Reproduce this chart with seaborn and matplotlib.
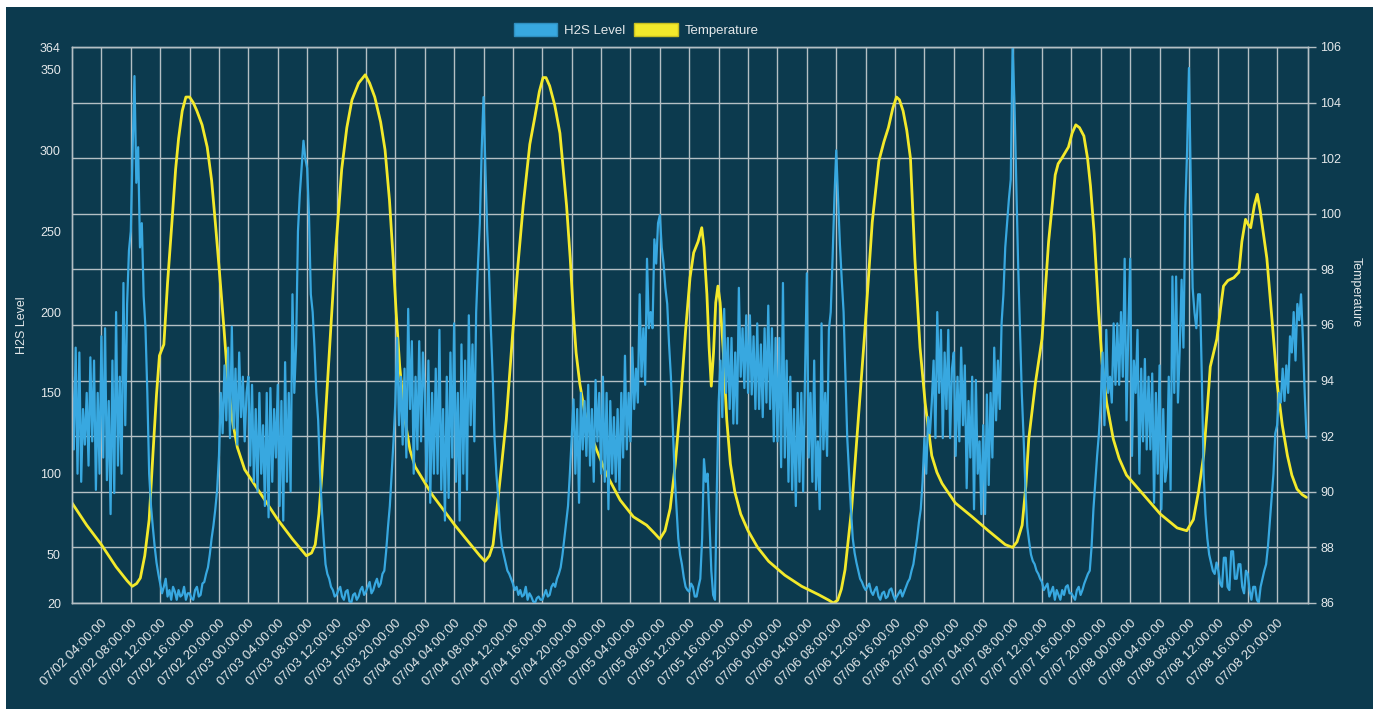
import numpy as np
import pandas as pd
import seaborn as sns
import matplotlib
matplotlib.use("Agg")
import matplotlib.pyplot as plt
from matplotlib.patches import Rectangle, Patch

# temperature (hours after 07/02 00:00, degrees), one line per day
temp_hours = [0, 2, 4, 6, 7.5, 8.2, 8.8, 9.3, 9.9, 10.5, 11.0, 11.5, 11.9, 12.5, 13.0, 13.6, 14.1, 14.5, 15.0, 15.5,
              16.0, 16.5, 17.0, 17.7, 18.4, 19.0, 19.5, 20.1, 20.7, 21.2, 21.8, 22.5, 23.5, 25.5,
              28.0, 30.0, 31.9, 32.6, 33.1, 33.6, 34.0, 34.9, 35.8, 36.7, 37.4, 38.1, 39.0, 39.9, 40.5, 41.2,
              42.0, 42.6, 43.2, 43.7, 44.1, 44.6, 45.3, 46.0, 46.7, 49.0, 52.1, 55.5,
              56.2, 56.8, 57.3, 58.2, 59.1, 60.0, 60.7, 61.4, 62.3, 63.0, 63.6, 64.1, 64.5, 65.0, 65.7, 66.4, 67.3,
              67.8, 68.2, 68.6, 69.1, 70.0, 71.4, 72.8, 74.6, 76.4, 78.2, 79.3, 80.0, 80.7, 81.4, 82.1, 82.8, 83.5, 84.1,
              84.6, 85.2, 85.7, 86.0, 86.4, 86.7, 87.0, 87.3, 87.6, 87.9, 88.2, 88.6, 89.1, 89.6, 90.2, 91.0, 92.0,
              93.3, 94.8, 97.0, 99.3, 101.6, 103.0, 103.6, 104.2, 104.7, 105.2, 106.1, 107.0, 107.9, 108.9, 109.8,
              110.5, 111.1, 111.7, 112.2, 112.6,
              113.1, 113.6, 114.1, 114.7, 115.4, 116.1, 117.0, 117.7, 118.4, 120.2, 122.5, 124.7, 127.0, 128.0, 128.6,
              129.3, 129.8, 130.2, 131.1, 132.0, 132.9, 133.8, 134.2, 134.7, 135.6, 136.1, 136.6, 137.1, 137.7, 138.2,
              138.6, 139.1, 139.7,
              140.2, 140.8, 141.7, 142.5, 143.5, 145.8, 148.1, 150.4, 151.7, 152.6, 153.3, 154.0, 154.5, 154.9, 155.8,
              156.3, 156.7, 157.3, 158.1, 158.8, 159.2, 159.7, 160.1, 160.4, 160.9, 161.3, 161.7, 162.6, 163.3, 164.0,
              164.7, 165.4, 166.0, 166.7, 167.4, 168.0]
temp_values = [89.6, 88.8, 88.1, 87.3, 86.8, 86.6, 86.7, 86.9, 87.7, 89.0, 91.3, 93.5, 94.9, 95.3, 97.5, 99.7, 101.6, 102.7, 103.7, 104.2,
               104.2, 104.0, 103.7, 103.2, 102.4, 101.2, 99.7, 97.8, 95.8, 94.0, 92.6, 91.6, 90.8, 90.0,
               89.0, 88.3, 87.7, 87.8, 88.1, 89.2, 90.6, 94.5, 98.4, 101.6, 103.1, 104.1, 104.7, 105.0, 104.7, 104.2,
               103.3, 102.3, 100.5, 98.4, 96.5, 94.5, 92.6, 91.5, 90.9, 89.9, 88.8, 87.7,
               87.5, 87.7, 88.1, 90.3, 92.6, 95.8, 98.2, 100.3, 102.5, 103.5, 104.4, 104.9, 104.9, 104.6, 103.9, 102.9, 100.3,
               98.4, 96.5, 95.0, 93.9, 92.5, 91.5, 90.6, 89.7, 89.1, 88.8, 88.5, 88.3, 88.6, 89.4, 91.0, 93.2, 95.8, 97.7,
               98.6, 99.0, 99.5, 98.8, 97.1, 95.2, 93.8, 95.0, 96.8, 97.4, 96.8, 95.2, 92.6, 91.0, 90.0, 89.2, 88.6,
               88.0, 87.5, 87.0, 86.6, 86.3, 86.1, 86.0, 86.1, 86.5, 87.2, 89.4, 92.6, 95.8, 99.7, 101.9,
               102.6, 103.1, 103.8, 104.2, 104.1,
               103.7, 103.0, 102.0, 98.4, 95.2, 93.2, 91.3, 90.7, 90.3, 89.6, 89.1, 88.6, 88.1, 88.0, 88.2,
               88.8, 90.2, 91.9, 93.9, 95.5, 99.0, 101.4, 101.8, 102.0, 102.4, 102.9, 103.2, 103.1, 102.8, 102.0,
               101.0, 99.3, 96.5,
               94.6, 93.2, 91.9, 91.2, 90.6, 89.9, 89.2, 88.7, 88.6, 89.0, 90.0, 91.3, 93.0, 94.5, 95.5,
               96.6, 97.4, 97.6, 97.7, 97.9, 99.0, 99.8, 99.6, 99.5, 100.3, 100.7, 100.1, 98.4, 96.2, 93.9,
               92.4, 91.3, 90.6, 90.1, 89.9, 89.8]

# H2S level every 15 minutes from 07/02 00:00, one row = 4 hours
h2s_values = [
    160, 115, 178, 100, 175, 95, 140, 118, 150, 105, 172, 120, 170, 90, 150, 100,
    185, 110, 190, 96, 145, 75, 170, 88, 200, 105, 160, 100, 218, 130, 205, 238,
    250, 300, 346, 280, 302, 240, 255, 210, 190, 150, 100, 80, 67, 55, 45, 38,
    32, 26, 30, 35, 24, 28, 22, 30, 27, 22, 28, 24, 25, 30, 22, 26,
    26, 23, 22, 28, 30, 24, 25, 32, 33, 38, 42, 50, 60, 68, 78, 90,
    111, 150, 125, 167, 133, 178, 122, 191, 128, 165, 118, 175, 135, 160, 120, 150,
    160, 105, 155, 95, 140, 89, 150, 100, 130, 80, 150, 73, 153, 95, 140, 110,
    155, 80, 145, 71, 169, 95, 150, 89, 211, 150, 180, 250, 273, 290, 306, 295,
    289, 260, 211, 200, 178, 150, 133, 100, 78, 60, 44, 38, 35, 30, 28, 24,
    25, 28, 30, 24, 22, 27, 28, 21, 20, 25, 26, 22, 24, 28, 30, 25,
    27, 30, 33, 26, 28, 32, 35, 30, 32, 38, 40, 52, 67, 80, 100, 120,
    144, 184, 130, 160, 118, 165, 110, 202, 140, 182, 100, 160, 115, 182, 120, 175,
    150, 95, 170, 82, 150, 100, 165, 100, 189, 90, 140, 71, 160, 85, 175, 110,
    193, 95, 150, 71, 180, 100, 170, 90, 198, 130, 180, 120, 200, 230, 255, 300,
    333, 290, 251, 225, 190, 160, 122, 100, 85, 65, 55, 50, 45, 40, 38, 35,
    32, 28, 30, 25, 28, 24, 25, 30, 22, 26, 24, 21, 20, 23, 24, 22,
    22, 25, 28, 24, 25, 30, 32, 30, 35, 38, 42, 50, 60, 70, 80, 100,
    122, 146, 100, 140, 82, 150, 115, 145, 111, 155, 105, 140, 95, 158, 120, 150,
    100, 160, 95, 150, 78, 145, 100, 135, 95, 140, 90, 150, 110, 173, 115, 150,
    120, 178, 140, 165, 144, 211, 160, 190, 155, 233, 190, 200, 190, 245, 230, 255,
    260, 240, 230, 215, 205, 180, 160, 130, 100, 80, 60, 50, 44, 36, 30, 28,
    27, 32, 30, 24, 24, 30, 35, 60, 109, 95, 100, 70, 40, 25, 22, 90,
    144, 170, 135, 202, 150, 184, 140, 184, 131, 175, 131, 215, 160, 190, 153, 198,
    150, 198, 149, 185, 140, 193, 140, 180, 135, 190, 144, 204, 140, 190, 120, 184,
    120, 184, 104, 218, 110, 170, 95, 160, 90, 140, 80, 150, 95, 150, 89, 160,
    224, 110, 150, 95, 170, 90, 120, 78, 193, 115, 150, 111, 189, 200, 233, 270,
    300, 270, 242, 220, 200, 160, 122, 100, 78, 60, 51, 45, 40, 35, 33, 30,
    28, 30, 32, 27, 25, 28, 30, 24, 22, 26, 27, 23, 24, 28, 29, 25,
    22, 24, 26, 28, 24, 27, 30, 33, 35, 40, 44, 52, 60, 70, 78, 95,
    122, 100, 135, 125, 144, 170, 122, 200, 150, 189, 122, 175, 140, 189, 122, 165,
    175, 111, 160, 120, 178, 130, 167, 91, 145, 110, 160, 78, 158, 100, 120, 75,
    130, 75, 149, 93, 150, 110, 178, 133, 170, 140, 193, 211, 240, 255, 270, 282,
    364, 330, 280, 230, 189, 150, 122, 90, 67, 58, 50, 46, 44, 40, 38, 35,
    33, 28, 30, 32, 24, 27, 30, 22, 28, 25, 22, 28, 25, 30, 31, 26,
    26, 24, 22, 28, 30, 25, 28, 32, 35, 38, 40, 55, 78, 95, 111, 125,
    144, 175, 130, 189, 150, 160, 144, 193, 155, 193, 155, 200, 160, 233, 133, 190,
    233, 111, 170, 150, 189, 100, 165, 120, 171, 115, 160, 115, 162, 82, 150, 100,
    167, 78, 140, 95, 104, 160, 90, 222, 150, 222, 144, 178, 220, 178, 264, 300,
    351, 280, 215, 200, 190, 211, 211, 160, 100, 75, 60, 50, 45, 40, 38, 45,
    40, 32, 30, 48, 48, 30, 28, 52, 52, 35, 35, 44, 44, 30, 26, 40,
    38, 28, 22, 30, 30, 22, 20, 30, 35, 40, 44, 55, 70, 85, 100, 125,
    130, 150, 144, 165, 145, 167, 150, 185, 175, 200, 170, 205, 195, 211, 184, 150,
    122]
h2s_hours = np.arange(len(h2s_values)) * 0.25

tick_hours = list(range(4, 165, 4))
tick_labels = pd.date_range("2023-07-02 04:00", periods=len(tick_hours), freq="4h").strftime("%m/%d %H:%M:%S")
h2s_ticks = [20, 50, 100, 150, 200, 250, 300, 350, 364]
temp_ticks = list(range(86, 107, 2))

bg = "#0c3a4e"
grid = "#b4bfc4"
txt = "#e4e8ea"
blue = "#38a8e0"
yellow = "#f3e92b"

sns.set_theme(style="dark")
plt.rcParams["font.family"] = ["Liberation Sans", "DejaVu Sans"]

W, H = 1377, 709
fig = plt.figure(figsize=(W / 100, H / 100), dpi=100, facecolor="white")
fig.patches.append(Rectangle((6 / W, 0), 1367 / W, 702 / H, transform=fig.transFigure,
                             facecolor=bg, edgecolor="none", zorder=-10))

# temperature axes underneath (carries the grid), H2S on top
ax = fig.add_axes([72 / W, 106 / H, 1236 / W, 556 / H], facecolor=bg)
axh = ax.twinx()

sns.lineplot(x=temp_hours, y=temp_values, ax=ax, color=yellow, lw=2.0, estimator=None, sort=False)
sns.lineplot(x=h2s_hours, y=h2s_values, ax=axh, color=blue, lw=1.6, estimator=None, sort=False)

ax.set_xlim(0, 168.2)
ax.set_ylim(86, 106)
ax.set_yticks(temp_ticks)
ax.yaxis.tick_right()
ax.yaxis.set_label_position("right")
ax.set_xticks(tick_hours)
ax.set_xticklabels(tick_labels, rotation=45, ha="right", va="top", rotation_mode="anchor")
ax.grid(True, color=grid, lw=1)
ax.tick_params(axis="x", length=8, width=1, color=grid, labelcolor=txt, labelsize=9.5, pad=2)
ax.tick_params(axis="y", length=6, width=1, color=grid, labelcolor=txt, labelsize=9, pad=3,
               left=False, right=True, labelleft=False, labelright=True)
ax.set_ylabel("Temperature", rotation=270, va="bottom", color=txt, fontsize=9)
ax.yaxis.set_label_coords((1350 - 72) / 1236, 0.56)
ax.set_xlabel("")

axh.set_ylim(20, 364)
axh.set_yticks(h2s_ticks)
axh.yaxis.tick_left()
axh.yaxis.set_label_position("left")
axh.grid(False)
axh.tick_params(axis="y", length=0, labelcolor=txt, labelsize=9, pad=8,
                left=False, right=False, labelleft=True, labelright=False)
axh.set_ylabel("H2S Level", color=txt, fontsize=9)
axh.yaxis.set_label_coords((28 - 72) / 1236, 0.5)

for a in (ax, axh):
    for s in a.spines.values():
        s.set_color(grid)
        s.set_linewidth(1)

handles = [Patch(facecolor=blue, edgecolor="#2f8fc0", label="H2S Level"),
           Patch(facecolor=yellow, edgecolor="#c9bf20", label="Temperature")]
fig.legend(handles=handles, loc="center", bbox_to_anchor=(636 / W, 1 - 30 / H), ncol=2, frameon=False,
           fontsize=9.5, labelcolor=txt, handlelength=3.3, handleheight=1.2, handletextpad=0.5,
           columnspacing=0.7)

fig.savefig("out.png", dpi=100, facecolor="white")
